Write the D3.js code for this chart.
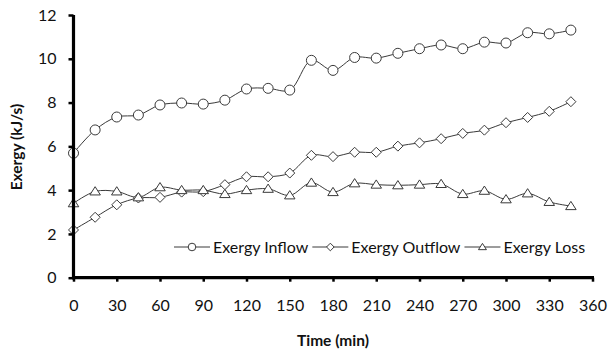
<!DOCTYPE html>
<html><head><meta charset="utf-8">
<script src="https://cdn.jsdelivr.net/npm/d3@7"></script>
<style>body{margin:0;background:#fff}svg{display:block}</style>
</head><body>
<svg id="c" width="608" height="353"></svg>
<script>
const times = [0,15,30,45,60,75,90,105,120,135,150,165,180,195,210,225,240,255,270,285,300,315,330,345];
const inflow = [5.69,6.75,7.34,7.43,7.89,7.98,7.93,8.11,8.62,8.65,8.57,9.93,9.47,10.06,10.03,10.25,10.46,10.63,10.46,10.76,10.72,11.19,11.14,11.31];
const outflow = [2.18,2.76,3.33,3.64,3.67,3.91,3.93,4.25,4.61,4.61,4.78,5.59,5.53,5.73,5.73,6.01,6.16,6.35,6.59,6.74,7.08,7.32,7.6,8.04];
const loss = [3.4,3.94,3.94,3.67,4.13,4.0,4.0,3.82,4.0,4.06,3.76,4.34,3.91,4.31,4.25,4.22,4.25,4.28,3.82,3.97,3.58,3.85,3.46,3.27];
const seriesNames = ["Exergy Inflow","Exergy Outflow","Exergy Loss"];
const markerTypes = ["circle","diamond","triangle"];
const xTicks = [0,30,60,90,120,150,180,210,240,270,300,330,360];
const yTicks = [0,2,4,6,8,10,12];
const xTitle = "Time (min)";
const yTitle = "Exergy (kJ/s)";

const svg = d3.select("#c");
const x = d3.scaleLinear().domain([0,360]).range([73.5,592.5]);
const y = d3.scaleLinear().domain([0,12]).range([277.7,15]);
const font = "Lato, 'Open Sans', sans-serif";
const lineCol = "#3a3a3a";

const series = [inflow,outflow,loss];
const line = d3.line().x((d,i)=>x(times[i])).y(d=>y(d)).curve(d3.curveCatmullRom.alpha(0.5));

function marker(g, type, cx, cy, s){
  if(type==="circle"){
    g.append("circle").attr("cx",cx).attr("cy",cy).attr("r",s).attr("fill","#fff").attr("stroke",lineCol).attr("stroke-width",1);
  } else if(type==="diamond"){
    g.append("path").attr("d",`M${cx},${cy-s}L${cx+s},${cy}L${cx},${cy+s}L${cx-s},${cy}Z`).attr("fill","#fff").attr("stroke",lineCol).attr("stroke-width",1);
  } else {
    g.append("path").attr("d",`M${cx},${cy-s*0.95}L${cx+s*1.05},${cy+s*0.7}L${cx-s*1.05},${cy+s*0.7}Z`).attr("fill","#fff").attr("stroke",lineCol).attr("stroke-width",1);
  }
}

series.forEach((vals,k)=>{
  svg.append("path").attr("d",line(vals)).attr("fill","none").attr("stroke",lineCol).attr("stroke-width",1);
});
series.forEach((vals,k)=>{
  const g = svg.append("g");
  vals.forEach((v,i)=>marker(g, markerTypes[k], x(times[i]), y(v), 5));
});

// axes
const xa = svg.append("g").attr("transform",`translate(0,${y(0)})`)
  .call(d3.axisBottom(x).tickValues(xTicks).tickSize(4).tickPadding(18).tickFormat(d3.format("d")));
const ya = svg.append("g").attr("transform",`translate(${x(0)},0)`)
  .call(d3.axisLeft(y).tickValues(yTicks).tickSize(5).tickPadding(12).tickFormat(d3.format("d")));
[xa,ya].forEach(a=>{
  a.select(".domain").attr("stroke","#000").attr("stroke-width",3.2);
  a.selectAll(".tick line").attr("stroke","#000").attr("stroke-width",2.5);
  a.selectAll(".tick text").attr("fill","#111").style("font-family",font).style("font-size","16px");
});
xa.select(".domain").attr("d",`M${x(0)-1.5},0H${x(360)+1.5}`);
ya.select(".domain").attr("d",`M0,${y(12)}V${y(0)+1.5}`);

svg.append("text").attr("x",333).attr("y",346).attr("text-anchor","middle")
  .style("font-family",font).style("font-weight","bold").style("font-size","15.5px").attr("fill","#111").text(xTitle);
svg.append("text").attr("transform","translate(22,147) rotate(-90)").attr("text-anchor","middle")
  .style("font-family",font).style("font-weight","bold").style("font-size","15.5px").attr("fill","#111").text(yTitle);

// legend
let lx = 174; const ly = 247;
seriesNames.forEach((name,k)=>{
  const g = svg.append("g");
  g.append("line").attr("x1",lx).attr("x2",lx+36).attr("y1",ly).attr("y2",ly).attr("stroke",lineCol).attr("stroke-width",1);
  marker(g, markerTypes[k], lx+18, ly, 3.8);
  const t = g.append("text").attr("x",lx+39).attr("y",ly+5.5).style("font-family",font).style("font-size","16px").attr("fill","#111").text(name);
  lx += 39 + t.node().getComputedTextLength() + 4;
});
</script>
</body></html>
